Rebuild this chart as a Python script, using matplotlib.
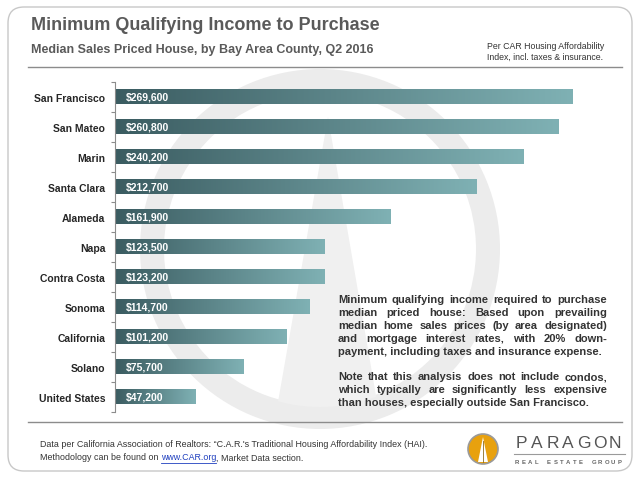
import numpy as np
import matplotlib
matplotlib.use("Agg")
import matplotlib.pyplot as plt
from matplotlib.colors import LinearSegmentedColormap
from matplotlib.patches import FancyBboxPatch, Circle, Wedge, Polygon

# data
counties = ["San Francisco", "San Mateo", "Marin", "Santa Clara", "Alameda", "Napa",
            "Contra Costa", "Sonoma", "California", "Solano", "United States"]
income = [269600, 260800, 240200, 212700, 161900, 123500,
          123200, 114700, 101200, 75700, 47200]

title = "Minimum Qualifying Income to Purchase"
subtitle = "Median Sales Priced House, by Bay Area County, Q2 2016"
note = "Per CAR Housing Affordability\nIndex, incl. taxes & insurance."
para1 = ["Minimum qualifying income required to purchase",
         "median priced house: Based upon prevailing",
         "median home sales prices (by area designated)",
         "and mortgage interest rates, with 20% down-",
         "payment, including taxes and insurance expense."]
para2 = ["Note that this analysis does not include condos,",
         "which typically are significantly less expensive",
         "than houses, especially outside San Francisco."]

plt.rcParams['font.family'] = ['Liberation Sans', 'DejaVu Sans']

W, H = 640, 481
fig = plt.figure(figsize=(W/100, H/100), dpi=100)

def fx(px):
    return px / W

def fy(py):
    return 1 - py / H

# background layer: frame + watermark
bg = fig.add_axes([0, 0, 1, 1], zorder=0)
bg.set_xlim(0, W)
bg.set_ylim(H, 0)
bg.axis("off")
bg.add_patch(FancyBboxPatch((8, 8), W-16, H-17, boxstyle="round,pad=0,rounding_size=16",
                            fc="white", ec="#c8c8c8", lw=1))
# faint logo watermark
cx, cy = 320, 250
bg.add_patch(Wedge((cx, cy), 180, 0, 360, width=24, fc="#ececec", ec="none"))
tri = Polygon([(cx+8, 118), (cx-45, 420), (cx+60, 420)], closed=True, fc="#f0f0f0", ec="none")
bg.add_patch(tri)
tri.set_clip_path(Circle((cx, cy), 158, transform=bg.transData))

bg.plot([28, 622], [68, 68], color="#8c8c8c", lw=1)
bg.plot([28, 622], [423, 423], color="#8c8c8c", lw=1)

# chart axes
left_px, right_px = 115, 624.6
top_px, bot_px = 83, 413
ax = fig.add_axes([fx(left_px), fy(bot_px), fx(right_px - left_px), (bot_px - top_px)/H], zorder=2)
ax.patch.set_alpha(0)

cmap = LinearSegmentedColormap.from_list("bar", ["#3b5c61", "#7fb1b4"])
grad = np.linspace(0, 1, 256).reshape(1, -1)
h = 0.5
for i, (c, v) in enumerate(zip(counties, income)):
    ax.imshow(grad, extent=[0, v, i + h/2, i - h/2], cmap=cmap, aspect="auto",
              interpolation="bicubic", zorder=2)
    ax.text(6500, i, "${:,}".format(v), color="white", fontsize=7.5, fontweight="bold",
            va="center", ha="left", zorder=3)

ax.set_xlim(0, 300000)
ax.set_ylim(len(counties) - 0.5, -0.5)
ax.set_yticks(np.arange(len(counties)))
ax.set_yticklabels(counties, fontsize=7.5, fontweight="bold", color="#262626")
ax.set_yticks(np.arange(len(counties) + 1) - 0.5, minor=True)
ax.tick_params(axis="y", which="major", length=0, pad=7)
ax.tick_params(axis="y", which="minor", length=3, color="#8c8c8c", width=0.8)
ax.set_xticks([])
for s in ["top", "right", "bottom"]:
    ax.spines[s].set_visible(False)
ax.spines["left"].set_color("#8c8c8c")
ax.spines["left"].set_linewidth(0.8)

# header text
fig.text(fx(31), fy(25), title, fontsize=13, fontweight="bold", color="#5a5a5a", va="center")
fig.text(fx(31), fy(50), subtitle, fontsize=9.0, fontweight="bold", color="#5a5a5a", va="center")
fig.text(fx(487), fy(52), note, fontsize=6.3, color="#333333", va="center", linespacing=1.3)

# justified annotation
fig.canvas.draw()
renderer = fig.canvas.get_renderer()

def word_width(w, size):
    t = fig.text(0, 0, w, fontsize=size, fontweight="bold")
    bb = t.get_window_extent(renderer)
    t.remove()
    return bb.width

def draw_par(lines, y0, x0=338, x1=607, size=8.0, dy=13):
    for k, line in enumerate(lines):
        y = y0 + k * dy + 3.5
        words = line.split()
        if k == len(lines) - 1:
            fig.text(fx(x0), fy(y), line, fontsize=size, fontweight="bold",
                     color="#333333", va="baseline")
            continue
        widths = [word_width(w, size) for w in words]
        gap = (x1 - x0 - sum(widths)) / (len(words) - 1)
        x = x0
        for w, ww in zip(words, widths):
            fig.text(fx(x), fy(y), w, fontsize=size, fontweight="bold",
                     color="#333333", va="baseline")
            x += ww + gap

draw_par(para1, 300)
draw_par(para2, 377)

# footer
fig.text(fx(40), fy(445), "Data per California Association of Realtors: \u201cC.A.R.'s Traditional Housing Affordability Index (HAI).",
         fontsize=6.4, color="#333333", va="center")
t1 = fig.text(fx(40), fy(458), "Methodology can be found on ", fontsize=6.4, color="#333333", va="center")
fig.canvas.draw()
bb = t1.get_window_extent(renderer)
t2 = fig.text(fx(bb.x1), fy(458), "www.CAR.org", fontsize=6.4, color="#1f3fbf", va="center")
bb2 = t2.get_window_extent(renderer)
fig.text(fx(bb2.x1), fy(458), ", Market Data section.", fontsize=6.4, color="#333333", va="center")
bg.plot([bb2.x0, bb2.x1], [463.5, 463.5], color="#1f3fbf", lw=0.6)

# logo
bg.add_patch(Circle((483, 450), 15, fc="#e8a10e", ec="#9a9a9a", lw=1.2))
bg.add_patch(Polygon([(483, 438), (478, 463), (488, 463)], closed=True, fc="white", ec="none"))
bg.plot([483, 483], [442, 463], color="#8a6a20", lw=0.6)
for k, ch in enumerate("PARAGON"):
    fig.text(fx(521 + k * 15.7), fy(444), ch, fontsize=12.5, color="#555555",
             ha="center", va="center")
bg.plot([514, 625], [455, 455], color="#9a9a9a", lw=0.8)
for k, ch in enumerate("REAL ESTATE GROUP"):
    if ch != " ":
        fig.text(fx(517 + k * 6.4), fy(463), ch, fontsize=4.3, fontweight="bold",
                 color="#666666", ha="center", va="center")

fig.savefig("out.png", dpi=100)
